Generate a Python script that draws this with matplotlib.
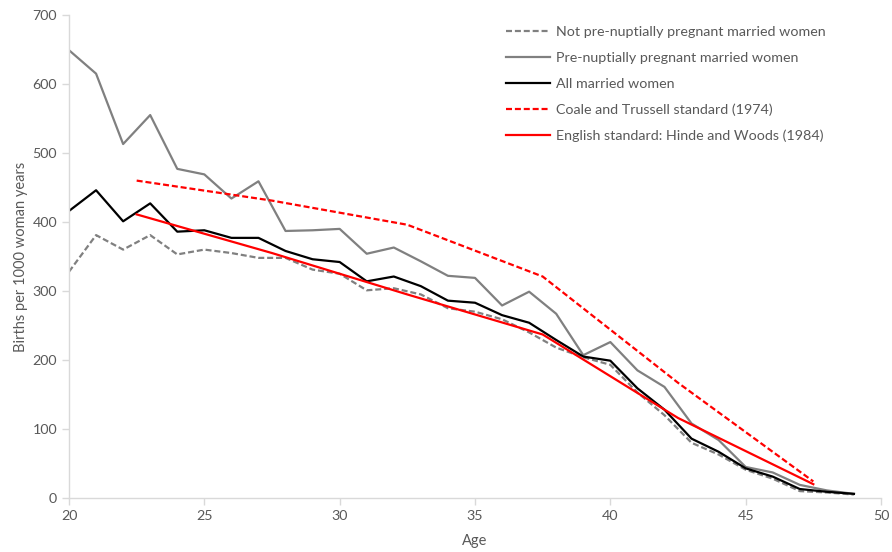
import matplotlib
matplotlib.use("Agg")
import matplotlib.pyplot as plt

ages = list(range(20, 50))
not_prenup = [328, 381, 360, 381, 353, 360, 355, 348, 348, 331, 325, 301, 304, 295,
              275, 270, 259, 240, 218, 204, 193, 153, 120, 80, 63, 41, 28, 10, 8, 5]
prenup = [649, 615, 513, 555, 477, 469, 434, 459, 387, 388, 390, 354, 363, 343,
          322, 319, 279, 299, 267, 207, 226, 185, 161, 108, 84, 45, 37, 19, 11, 6]
all_married = [416, 446, 401, 427, 386, 388, 377, 377, 358, 346, 342, 314, 321, 307,
               286, 283, 265, 254, 229, 205, 199, 159, 128, 86, 67, 43, 31, 13, 9, 6]
std_ages = [22.5, 27.5, 32.5, 37.5, 42.5, 47.5]
coale_trussell = [460, 431, 396, 321, 167, 24]
hinde_woods = [411, 355, 295, 237, 116, 20]

GRAY = "#808080"
TXT = "#595959"
AX = "#d9d9d9"

plt.rcParams['font.family'] = ['Lato', 'DejaVu Sans']

fig = plt.figure(figsize=(8.92, 5.52), dpi=100)
ax = fig.add_axes([69/892, 54/552, (881-69)/892, (498-15)/552])

lw = 1.6
ax.plot(ages, not_prenup, color=GRAY, lw=lw, dashes=(2.7, 1.3),
        label="Not pre-nuptially pregnant married women")
ax.plot(ages, prenup, color=GRAY, lw=lw, label="Pre-nuptially pregnant married women")
ax.plot(ages, all_married, color="black", lw=lw, label="All married women")
ax.plot(std_ages, coale_trussell, color="#ff0000", lw=lw, dashes=(2.7, 1.3),
        label="Coale and Trussell standard (1974)")
ax.plot(std_ages, hinde_woods, color="#ff0000", lw=lw,
        label="English standard: Hinde and Woods (1984)")

ax.set_xlim(20, 50)
ax.set_ylim(0, 700)
ax.set_xticks(range(20, 51, 5))
ax.set_yticks(range(0, 701, 100))

for s in ["top", "right"]:
    ax.spines[s].set_visible(False)
for s in ["left", "bottom"]:
    ax.spines[s].set_color(AX)
    ax.spines[s].set_linewidth(1)
ax.tick_params(axis="both", colors=AX, labelcolor=TXT, labelsize=10.3, length=5, width=1)

ax.set_xlabel("Age", color=TXT, fontsize=10.5, labelpad=9)
ax.set_ylabel("Births per 1000 woman years", color=TXT, fontsize=10.5, labelpad=3)

leg = ax.legend(loc="upper left", bbox_to_anchor=(500/892, 1 - 20/552), bbox_transform=fig.transFigure,
                frameon=False, fontsize=10.3, handlelength=3.1, handletextpad=0.4,
                labelspacing=0.97, borderaxespad=0)
for t in leg.get_texts():
    t.set_color(TXT)

fig.savefig("out.png", dpi=100)
